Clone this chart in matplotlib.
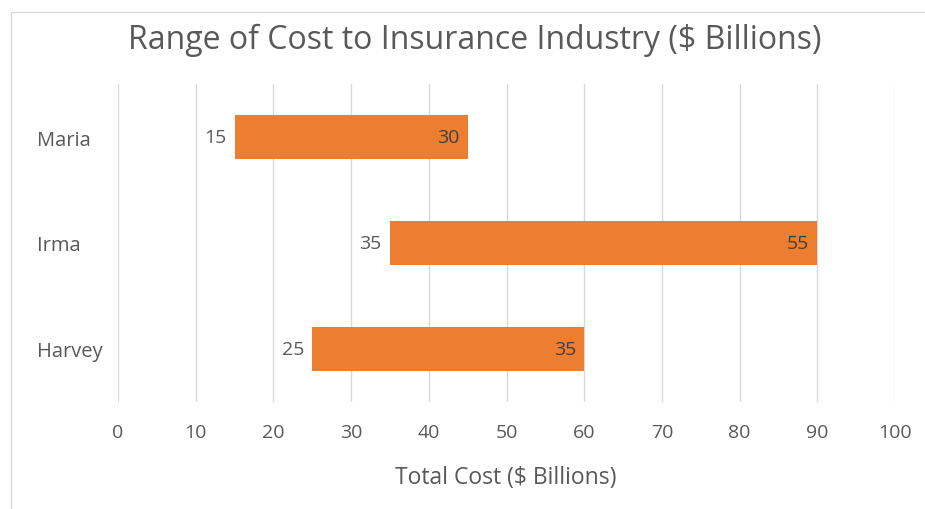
import matplotlib
matplotlib.use("Agg")
import matplotlib.pyplot as plt
from matplotlib.patches import Rectangle

plt.rcParams['font.family'] = ['Open Sans', 'DejaVu Sans']

categories = ["Harvey", "Irma", "Maria"]
low_values = [25, 35, 15]
range_values = [35, 55, 30]
x_ticks = [0, 10, 20, 30, 40, 50, 60, 70, 80, 90, 100]

text_color = "#595959"
bar_color = "#ED7D31"
grid_color = "#D9D9D9"

fig = plt.figure(figsize=(9.25, 5.1), dpi=100)
W, H = 925, 510
ax = fig.add_axes([118 / W, 1 - 403 / H, (895 - 118) / W, (403 - 85) / H])

fig.patches.append(Rectangle((11 / W, -0.1), 1.2, 1 - 13 / H + 0.1, transform=fig.transFigure,
                             fill=False, edgecolor="#D9D9D9", linewidth=1, zorder=0))

ypos = list(range(len(categories)))
ax.barh(ypos, low_values, height=0.41, color="none")
bars = ax.barh(ypos, range_values, left=low_values, height=0.41, color=bar_color, zorder=3)

for y, lo, rv in zip(ypos, low_values, range_values):
    ax.annotate(str(lo), (lo, y), xytext=(-6, 0), textcoords="offset points",
                ha="right", va="center", fontsize=14, color=text_color)
    ax.annotate(str(rv), (lo + rv, y), xytext=(-6, 0), textcoords="offset points",
                ha="right", va="center", fontsize=14, color="#404040", zorder=4)

ax.set_xlim(0, 100)
ax.set_ylim(-0.5, 2.5)
ax.set_xticks(x_ticks)
ax.set_xticklabels([str(t) for t in x_ticks], fontsize=14, color=text_color)
ax.set_yticks(ypos)
ax.set_yticklabels(categories, fontsize=14.5, color=text_color)
for lab in ax.get_yticklabels():
    lab.set_ha("left")
ax.tick_params(axis="y", length=0, pad=(118 - 37) * 72 / 100)
ax.tick_params(axis="x", length=0, pad=15)
ax.grid(axis="x", color=grid_color, linewidth=1, zorder=0)
ax.set_axisbelow(True)
for s in ax.spines.values():
    s.set_visible(False)

fig.text(506 / W, 1 - 478 / H, "Total Cost ($ Billions)",
         ha="center", va="center", fontsize=16.5, color=text_color)
fig.text(475 / W, 1 - 40 / H, "Range of Cost to Insurance Industry ($ Billions)",
         ha="center", va="center", fontsize=23, color=text_color)

fig.savefig("out.png", dpi=100)
